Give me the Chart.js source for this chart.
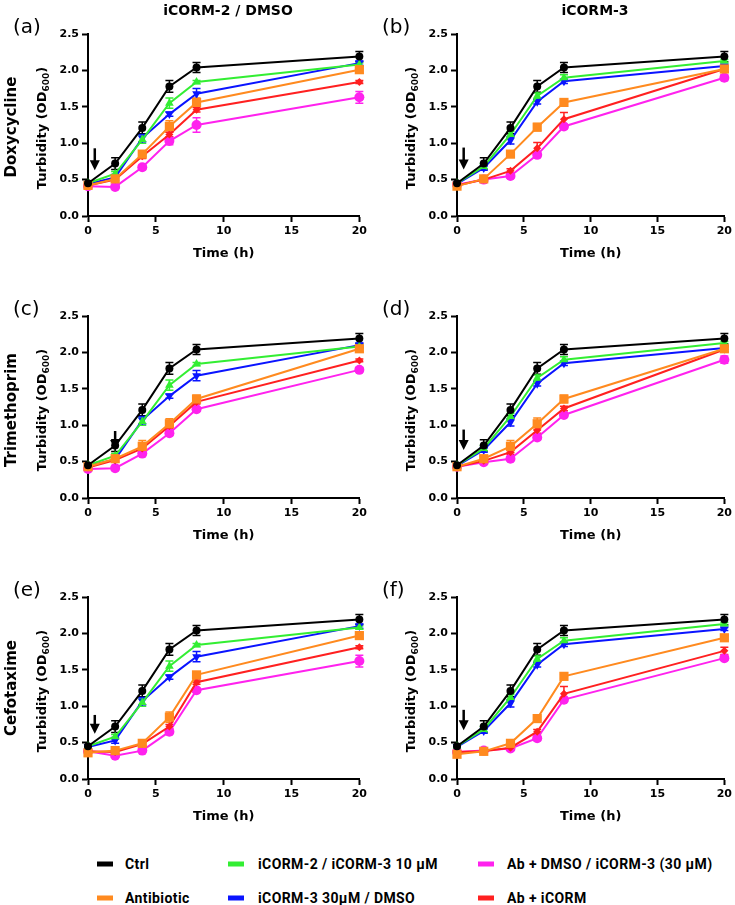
<!DOCTYPE html>
<html>
<head>
<meta charset="utf-8">
<script src="https://cdn.jsdelivr.net/npm/chart.js@4.4.1/dist/chart.umd.min.js"></script>
<style>
  body { margin: 0; background: #fff; width: 735px; height: 905px; position: relative; overflow: hidden; font-family: "DejaVu Sans", sans-serif; color: #000; }
  canvas { position: absolute; }
  .lbl { position: absolute; white-space: nowrap; }
  .title { font-weight: bold; font-size: 14px; transform: translate(-50%, -50%); }
  .panel { font-size: 20px; transform: translateY(-50%); }
  .row { font-weight: bold; font-size: 15px; transform: translate(-50%, -50%) rotate(-90deg); }
  .leg { position: absolute; font-family: Roboto, sans-serif; font-weight: bold; font-size: 14px; letter-spacing: 0.4px; transform: translateY(-50%); white-space: nowrap; }
  .sw { position: absolute; width: 16px; height: 5px; transform: translateY(-50%); }
</style>
</head>
<body>
<script>
// time points (h)
const hours = [0, 2, 4, 6, 8, 20];

const columnTitles = ['iCORM-2 / DMSO', 'iCORM-3'];
const rowNames = ['Doxycycline', 'Trimethoprim', 'Cefotaxime'];
const panelTags = ['(a)', '(b)', '(c)', '(d)', '(e)', '(f)'];

const seriesNames = ['Ctrl', 'Antibiotic', 'iCORM-2 / iCORM-3 10 µM', 'iCORM-3 30µM / DMSO', 'Ab + DMSO / iCORM-3 (30 µM)', 'Ab + iCORM'];
const seriesColors = ['#000000', '#ff8a1f', '#33ee33', '#0a14ff', '#ff22ee', '#ff2020'];

// shared curves
const ctrl = [0.45, 0.72, 1.21, 1.78, 2.04, 2.19];
const ctrlErr = [0.02, 0.08, 0.08, 0.08, 0.07, 0.07];
const low10Left = [0.45, 0.58, 1.05, 1.55, 1.84, 2.08];
const low10LeftErr = [0.01, 0.03, 0.05, 0.07, 0.02, 0.02];
const high30Left = [0.44, 0.53, 1.07, 1.40, 1.68, 2.10];
const high30LeftErr = [0.01, 0.04, 0.05, 0.03, 0.07, 0.03];
const low10Right = [0.45, 0.68, 1.12, 1.65, 1.90, 2.13];
const low10RightErr = [0.01, 0.04, 0.04, 0.04, 0.04, 0.02];
const high30Right = [0.44, 0.66, 1.04, 1.57, 1.85, 2.06];
const high30RightErr = [0.01, 0.03, 0.05, 0.03, 0.03, 0.02];

// doxycycline
const abDoxyL = [0.42, 0.51, 0.85, 1.23, 1.56, 2.01];
const abDoxyLErr = [0.01, 0.03, 0.03, 0.08, 0.06, 0.05];
const abIcormDoxyL = [0.42, 0.50, 0.82, 1.12, 1.46, 1.84];
const abIcormDoxyLErr = [0.01, 0.02, 0.03, 0.03, 0.03, 0.02];
const abDmsoDoxyL = [0.41, 0.40, 0.67, 1.03, 1.25, 1.63];
const abDmsoDoxyLErr = [0.01, 0.02, 0.03, 0.05, 0.10, 0.08];
const abDoxyR = [0.41, 0.51, 0.85, 1.22, 1.56, 2.02];
const abDoxyRErr = [0.01, 0.02, 0.03, 0.05, 0.03, 0.05];
const abIcormDoxyR = [0.42, 0.50, 0.62, 0.93, 1.33, 2.02];
const abIcormDoxyRErr = [0.01, 0.02, 0.03, 0.08, 0.09, 0.04];
const abDmsoDoxyR = [0.43, 0.50, 0.55, 0.84, 1.23, 1.90];
const abDmsoDoxyRErr = [0.01, 0.02, 0.03, 0.03, 0.03, 0.04];

// trimethoprim
const abTmpL = [0.43, 0.54, 0.71, 1.02, 1.36, 2.05];
const abTmpLErr = [0.01, 0.03, 0.08, 0.07, 0.05, 0.04];
const abIcormTmpL = [0.42, 0.52, 0.68, 0.99, 1.32, 1.89];
const abIcormTmpLErr = [0.01, 0.02, 0.03, 0.03, 0.03, 0.02];
const abDmsoTmpL = [0.40, 0.41, 0.61, 0.89, 1.22, 1.76];
const abDmsoTmpLErr = [0.01, 0.02, 0.03, 0.03, 0.03, 0.03];
const abTmpR = [0.43, 0.54, 0.71, 1.02, 1.36, 2.05];
const abTmpRErr = [0.01, 0.03, 0.08, 0.08, 0.05, 0.04];
const abIcormTmpR = [0.43, 0.51, 0.63, 0.93, 1.23, 2.04];
const abIcormTmpRErr = [0.01, 0.02, 0.03, 0.04, 0.03, 0.03];
const abDmsoTmpR = [0.43, 0.49, 0.54, 0.83, 1.14, 1.90];
const abDmsoTmpRErr = [0.01, 0.02, 0.03, 0.03, 0.03, 0.05];

// cefotaxime
const abCtxL = [0.36, 0.39, 0.49, 0.85, 1.43, 1.97];
const abCtxLErr = [0.01, 0.03, 0.04, 0.07, 0.04, 0.04];
const abIcormCtxL = [0.38, 0.37, 0.48, 0.72, 1.33, 1.81];
const abIcormCtxLErr = [0.01, 0.02, 0.02, 0.03, 0.03, 0.02];
const abDmsoCtxL = [0.38, 0.32, 0.39, 0.65, 1.22, 1.62];
const abDmsoCtxLErr = [0.01, 0.02, 0.02, 0.03, 0.03, 0.08];
const abCtxR = [0.34, 0.38, 0.49, 0.83, 1.41, 1.94];
const abCtxRErr = [0.01, 0.02, 0.02, 0.03, 0.03, 0.03];
const abIcormCtxR = [0.37, 0.38, 0.43, 0.65, 1.17, 1.76];
const abIcormCtxRErr = [0.01, 0.02, 0.02, 0.03, 0.10, 0.05];
const abDmsoCtxR = [0.37, 0.39, 0.42, 0.56, 1.09, 1.66];
const abDmsoCtxRErr = [0.01, 0.02, 0.02, 0.03, 0.03, 0.03];

// time the drug was added, and the arrow span in OD units
const arrowTime = [0.5, 0.5, 2, 0.5, 0.5, 0.5];
const arrowTop = [0.93, 0.94, 0.92, 0.94, 0.88, 0.95];
const arrowTip = [0.63, 0.64, 0.66, 0.66, 0.62, 0.67];

const panelData = [
  [abDoxyL, abDoxyLErr, abIcormDoxyL, abIcormDoxyLErr, abDmsoDoxyL, abDmsoDoxyLErr],
  [abDoxyR, abDoxyRErr, abIcormDoxyR, abIcormDoxyRErr, abDmsoDoxyR, abDmsoDoxyRErr],
  [abTmpL, abTmpLErr, abIcormTmpL, abIcormTmpLErr, abDmsoTmpL, abDmsoTmpLErr],
  [abTmpR, abTmpRErr, abIcormTmpR, abIcormTmpRErr, abDmsoTmpR, abDmsoTmpRErr],
  [abCtxL, abCtxLErr, abIcormCtxL, abIcormCtxLErr, abDmsoCtxL, abDmsoCtxLErr],
  [abCtxR, abCtxRErr, abIcormCtxR, abIcormCtxRErr, abDmsoCtxR, abDmsoCtxRErr],
];

const errorBars = {
  id: 'errorBars',
  beforeDatasetsDraw(chart) {
    const ctx = chart.ctx, y = chart.scales.y;
    chart.data.datasets.forEach((ds, i) => {
      const meta = chart.getDatasetMeta(i);
      ctx.save();
      ctx.strokeStyle = ds.borderColor;
      ctx.lineWidth = 1.5;
      meta.data.forEach((pt, j) => {
        const e = ds.errors[j];
        if (!e) return;
        const v = ds.data[j].y;
        const top = y.getPixelForValue(v + e), bot = y.getPixelForValue(v - e);
        ctx.beginPath();
        ctx.moveTo(pt.x, top); ctx.lineTo(pt.x, bot);
        ctx.moveTo(pt.x - 4, top); ctx.lineTo(pt.x + 4, top);
        ctx.moveTo(pt.x - 4, bot); ctx.lineTo(pt.x + 4, bot);
        ctx.stroke();
      });
      ctx.restore();
    });
  }
};

const arrowMark = {
  id: 'arrowMark',
  afterDatasetsDraw(chart, args, opts) {
    const ctx = chart.ctx;
    const px = chart.scales.x.getPixelForValue(opts.t);
    const y0 = chart.scales.y.getPixelForValue(opts.top);
    const y1 = chart.scales.y.getPixelForValue(opts.tip);
    ctx.save();
    ctx.strokeStyle = '#000';
    ctx.fillStyle = '#000';
    ctx.lineWidth = 2.5;
    ctx.beginPath(); ctx.moveTo(px, y0); ctx.lineTo(px, y1 - 8); ctx.stroke();
    ctx.beginPath();
    ctx.moveTo(px - 5, y1 - 10); ctx.lineTo(px + 5, y1 - 10); ctx.lineTo(px, y1);
    ctx.closePath(); ctx.fill();
    ctx.restore();
  }
};

// y-axis title with a real subscript
const yTitle = {
  id: 'yTitle',
  afterDraw(chart) {
    const ctx = chart.ctx, area = chart.chartArea;
    const main = 'Turbidity (OD', sub = '600', close = ')';
    ctx.save();
    ctx.translate(13, (area.top + area.bottom) / 2 + 3);
    ctx.rotate(-Math.PI / 2);
    ctx.fillStyle = '#000';
    ctx.textBaseline = 'middle';
    ctx.font = 'bold 13px "DejaVu Sans"';
    const wMain = ctx.measureText(main).width, wClose = ctx.measureText(close).width;
    ctx.font = 'bold 9px "DejaVu Sans"';
    const wSub = ctx.measureText(sub).width;
    let x = -(wMain + wSub + wClose) / 2;
    ctx.font = 'bold 13px "DejaVu Sans"';
    ctx.fillText(main, x, 0); x += wMain;
    ctx.font = 'bold 9px "DejaVu Sans"';
    ctx.fillText(sub, x, 4); x += wSub;
    ctx.font = 'bold 13px "DejaVu Sans"';
    ctx.fillText(close, x, 0);
    ctx.restore();
  }
};

function series(idx, vals, errs, style, radius, rotation) {
  return {
    label: seriesNames[idx],
    data: hours.map((h, i) => ({ x: h, y: vals[i] })),
    errors: errs,
    borderColor: seriesColors[idx],
    backgroundColor: seriesColors[idx],
    borderWidth: 2,
    pointStyle: style,
    pointRadius: radius,
    pointRotation: rotation || 0,
    pointBorderWidth: 0,
    clip: false,
  };
}

const tickFont = { family: 'DejaVu Sans', weight: 'bold', size: 11 };
const titleFont = { family: 'DejaVu Sans', weight: 'bold', size: 13 };

const plotTops = [34, 316, 597];
const plotLefts = [88, 457];
const plotW = [272, 270];
const plotH = 182;
const yAxisW = 58, xAxisH = 48, padTop = 14;

panelData.forEach((p, k) => {
  const col = k % 2, row = Math.floor(k / 2);
  const padRight = col === 0 ? 10 : 8;
  const cv = document.createElement('canvas');
  const left = plotLefts[col] - yAxisW, top = plotTops[row] - padTop;
  const w = yAxisW + plotW[col] + padRight, h = padTop + plotH + xAxisH;
  cv.width = w; cv.height = h;
  cv.style.left = left + 'px'; cv.style.top = top + 'px';
  cv.style.width = w + 'px'; cv.style.height = h + 'px';
  document.body.appendChild(cv);

  const low10 = col === 0 ? low10Left : low10Right;
  const low10Err = col === 0 ? low10LeftErr : low10RightErr;
  const high30 = col === 0 ? high30Left : high30Right;
  const high30Err = col === 0 ? high30LeftErr : high30RightErr;

  const datasets = [
    series(0, ctrl, ctrlErr, 'circle', 4),
    series(1, p[0], p[1], 'rect', 6.5),
    series(5, p[2], p[3], 'rectRot', 4),
    series(2, low10, low10Err, 'triangle', 5),
    series(3, high30, high30Err, 'triangle', 5, 180),
    series(4, p[4], p[5], 'circle', 5),
  ];

  new Chart(cv, {
    type: 'line',
    data: { datasets },
    options: {
      responsive: false,
      animation: false,
      devicePixelRatio: 1,
      layout: { padding: { top: padTop, right: padRight, left: 0, bottom: 0 } },
      plugins: {
        legend: { display: false },
        tooltip: { enabled: false },
        arrowMark: { t: arrowTime[k], top: arrowTop[k], tip: arrowTip[k] },
      },
      scales: {
        x: {
          type: 'linear', min: 0, max: 20,
          afterFit: s => { s.height = xAxisH; },
          ticks: { stepSize: 5, color: '#000', font: tickFont, padding: 3, maxRotation: 0 },
          grid: { drawOnChartArea: false, color: '#000', tickLength: 6, tickWidth: 2 },
          border: { color: '#000', width: 2 },
          title: { display: true, text: 'Time (h)', color: '#000', font: titleFont, padding: { top: 2, bottom: 3 } },
        },
        y: {
          min: 0, max: 2.5,
          afterFit: s => { s.width = yAxisW; },
          ticks: { stepSize: 0.5, color: '#000', font: tickFont, padding: 3, callback: v => v.toFixed(1) },
          grid: { drawOnChartArea: false, color: '#000', tickLength: 6, tickWidth: 2 },
          border: { color: '#000', width: 2 },
          title: { display: false },
        },
      },
    },
    plugins: [errorBars, arrowMark, yTitle],
  });

  const tag = document.createElement('div');
  tag.className = 'lbl panel';
  tag.textContent = panelTags[k];
  tag.style.left = (col === 0 ? 13 : 382) + 'px';
  tag.style.top = (plotTops[row] - 8) + 'px';
  document.body.appendChild(tag);
});

// column titles
[228, 595].forEach((cx, i) => {
  const d = document.createElement('div');
  d.className = 'lbl title';
  d.textContent = columnTitles[i];
  d.style.left = cx + 'px';
  d.style.top = '10px';
  document.body.appendChild(d);
});

// row names
[127, 410, 688].forEach((cy, i) => {
  const d = document.createElement('div');
  d.className = 'lbl row';
  d.textContent = rowNames[i];
  d.style.left = '11px';
  d.style.top = cy + 'px';
  document.body.appendChild(d);
});

// legend (column-major order)
const legendOrder = [0, 1, 2, 3, 4, 5];
const legendSwatchX = [97, 228, 478];
const legendTextX = [125, 258, 507];
const legendRowY = [864, 898];
legendOrder.forEach((si, n) => {
  const c = Math.floor(n / 2), r = n % 2;
  const sw = document.createElement('div');
  sw.className = 'sw';
  sw.style.left = legendSwatchX[c] + 'px';
  sw.style.top = legendRowY[r] + 'px';
  sw.style.background = seriesColors[si];
  document.body.appendChild(sw);
  const t = document.createElement('div');
  t.className = 'leg';
  t.textContent = seriesNames[si];
  t.style.left = legendTextX[c] + 'px';
  t.style.top = legendRowY[r] + 'px';
  document.body.appendChild(t);
});
</script>
</body>
</html>
